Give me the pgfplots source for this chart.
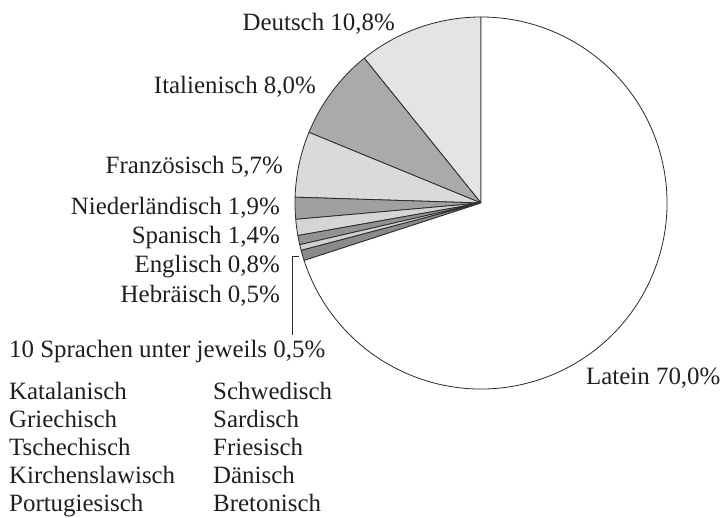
\documentclass[border=0pt]{standalone}
\usepackage{pgfplots}
\pgfplotsset{compat=1.18}
\usepackage{pgfplotstable}
\usepackage{fontspec}
\setmainfont{Liberation Serif}

% language, share in percent, fill colour
\pgfplotstableread[col sep=comma]{
name,value,col
Deutsch,10.8,sD
Italienisch,8.0,sI
Franzoesisch,5.7,sF
Niederlaendisch,1.9,sN
Spanisch,1.4,sS
Englisch,0.8,sE
Hebraeisch,0.5,sH
Andere,0.9,sA
Latein,70.0,white
}\piedata

\definecolor{sD}{HTML}{E4E4E6}
\definecolor{sI}{HTML}{AAAAAC}
\definecolor{sF}{HTML}{DADADC}
\definecolor{sN}{HTML}{A0A0A2}
\definecolor{sS}{HTML}{D5D5D7}
\definecolor{sE}{HTML}{929294}
\definecolor{sH}{HTML}{D0D0D2}
\definecolor{sA}{HTML}{8A8A8C}
\definecolor{edge}{HTML}{2A2A2A}

\def\cum{0}
\newcommand\slice[2]{%
  \pgfplotsextra{%
    \pgfmathsetmacro\sa{90+3.6*\cum}%
    \pgfmathsetmacro\sb{90+3.6*(\cum+#1)}%
    \fill[#2,draw=edge,line width=0.8pt,line join=round]
      (axis cs:481,315) -- ++(\sa:186bp) arc[start angle=\sa,end angle=\sb,radius=186bp] -- cycle;
    \pgfmathsetmacro\cumn{\cum+#1}%
    \global\let\cum\cumn
  }%
}

\begin{document}
\begin{tikzpicture}
\begin{axis}[
  width=728bp, height=518bp, scale only axis,
  xmin=0, xmax=728, ymin=0, ymax=518,
  enlargelimits=false, hide axis, clip=false,
]
\pgfplotsinvokeforeach{0,...,8}{%
  \pgfplotstablegetelem{#1}{value}\of{\piedata}\let\v\pgfplotsretval
  \pgfplotstablegetelem{#1}{col}\of{\piedata}\let\c\pgfplotsretval
  \edef\doslice{\noexpand\slice{\v}{\c}}\doslice
}

\begin{scope}[every node/.style={font=\fontsize{25}{28}\selectfont, inner sep=0pt, text=black!88}]
\node[anchor=base east] at (axis cs:395,487) {Deutsch 10,8\%};
\node[anchor=base east] at (axis cs:316,424) {Italienisch 8,0\%};
\node[anchor=base east] at (axis cs:283,344) {Französisch 5,7\%};
\node[anchor=base east] at (axis cs:280,303) {Niederländisch 1,9\%};
\node[anchor=base east] at (axis cs:280,274) {Spanisch 1,4\%};
\node[anchor=base east] at (axis cs:280,245) {Englisch 0,8\%};
\node[anchor=base east] at (axis cs:280,215) {Hebräisch 0,5\%};
\node[anchor=base west] at (axis cs:9,160) {10 Sprachen unter jeweils 0,5\%};
\node[anchor=base west] at (axis cs:9,118) {Katalanisch};
\node[anchor=base west] at (axis cs:9,90) {Griechisch};
\node[anchor=base west] at (axis cs:9,62) {Tschechisch};
\node[anchor=base west] at (axis cs:9,34) {Kirchenslawisch};
\node[anchor=base west] at (axis cs:9,7) {Portugiesisch};
\node[anchor=base west] at (axis cs:213,118) {Schwedisch};
\node[anchor=base west] at (axis cs:213,90) {Sardisch};
\node[anchor=base west] at (axis cs:213,62) {Friesisch};
\node[anchor=base west] at (axis cs:213,34) {Dänisch};
\node[anchor=base west] at (axis cs:213,7) {Bretonisch};
\node[anchor=base west] at (axis cs:586,133) {Latein 70,0\%};
\end{scope}
\draw[edge,line width=0.8pt] (axis cs:299,262) -- (axis cs:292,262) -- (axis cs:292,183);
\end{axis}
\pgfresetboundingbox
\useasboundingbox (current axis.south west) rectangle (current axis.north east);
\end{tikzpicture}
\end{document}
